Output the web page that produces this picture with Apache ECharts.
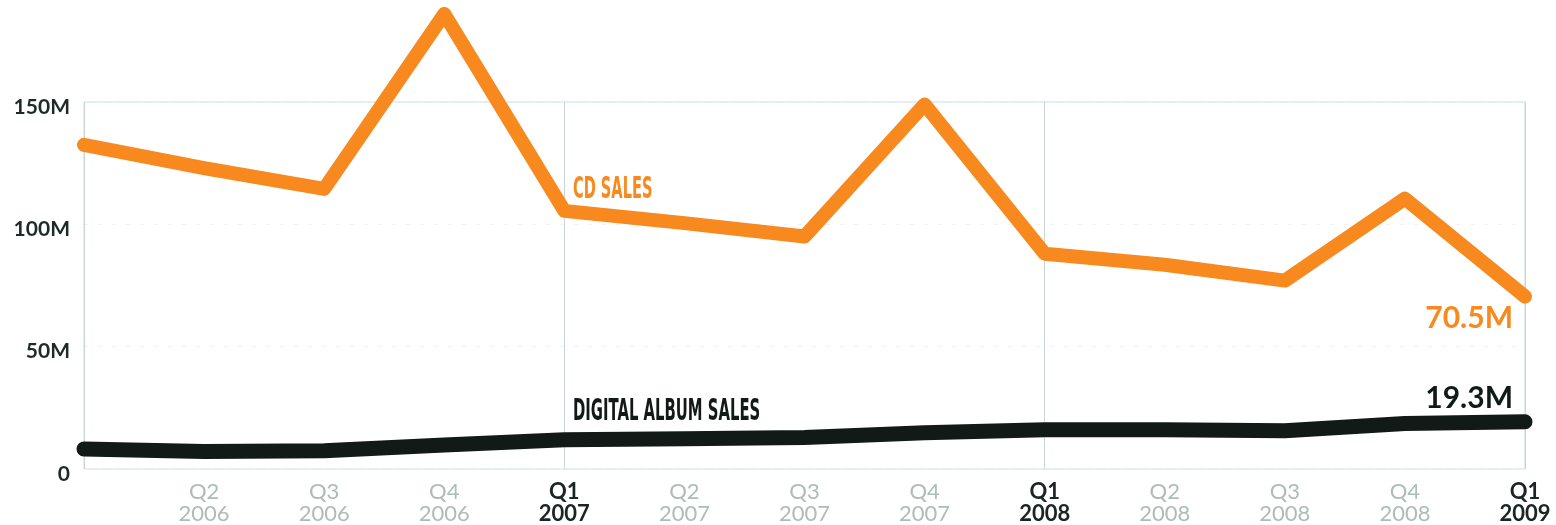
<!DOCTYPE html>
<html>
<head>
<meta charset="utf-8">
<script src="https://cdn.jsdelivr.net/npm/echarts@6/dist/echarts.min.js"></script>
<style>
  html, body { margin: 0; padding: 0; background: #fff; }
  #chart { width: 1556px; height: 525px; }
</style>
</head>
<body>
<div id="chart"></div>
<script>
// quarters, Q1 2006 .. Q1 2009
var quarters = ['Q1', 'Q2', 'Q3', 'Q4', 'Q1', 'Q2', 'Q3', 'Q4', 'Q1', 'Q2', 'Q3', 'Q4', 'Q1'];
var years = ['2006', '2006', '2006', '2006', '2007', '2007', '2007', '2007', '2008', '2008', '2008', '2008', '2009'];
// units: millions of albums
var cdSales = [132.5, 123, 114.5, 186, 105.5, 100.5, 95, 149, 88, 83.5, 77, 110.5, 70.5];
var digitalSales = [8.2, 7.2, 7.5, 9.8, 12, 12.4, 12.9, 14.8, 16, 16, 15.6, 18.6, 19.3];
var yTicks = [0, 50, 100, 150];

var ORANGE = '#f7891f';
var BLACK = '#121a17';
var CONDENSED = '"Liberation Sans Narrow", "DejaVu Sans Condensed", sans-serif';

var myChart = echarts.init(document.getElementById('chart'));

function lastLabel(values, color, offset) {
    return values.map(function (v, i) {
        if (i !== values.length - 1) return v;
        return {
            value: v,
            label: {
                show: true,
                position: 'inside',
                align: 'right',
                verticalAlign: 'middle',
                offset: offset,
                formatter: v + 'M',
                color: color,
                fontFamily: 'Lato',
                fontWeight: 'bold',
                fontSize: 30
            }
        };
    });
}

var option = {
    animation: false,
    grid: {
        left: 84,
        right: 31,
        top: 102,
        bottom: 54,
        show: true,
        borderColor: '#c9dbe0',
        borderWidth: 1
    },
    xAxis: {
        type: 'category',
        data: quarters,
        boundaryGap: false,
        axisLine: { show: false },
        axisTick: { show: false },
        axisLabel: {
            interval: 0,
            margin: 12,
            formatter: function (value, i) {
                if (i === 0) return '';
                var style = value === 'Q1' ? 'major' : 'minor';
                return '{' + style + '|' + value + '}\n{' + style + '|' + years[i] + '}';
            },
            rich: {
                major: { color: '#1a2624', fontFamily: 'Lato', fontWeight: 'bold', fontSize: 22, lineHeight: 22 },
                minor: { color: '#adbcb8', fontFamily: 'Lato', fontSize: 22, lineHeight: 22 }
            }
        },
        splitLine: {
            show: true,
            interval: function (index) { return index % 4 === 0; },
            lineStyle: { color: '#c9d6d8', width: 1 }
        }
    },
    yAxis: {
        type: 'value',
        min: 0,
        max: 150,
        interval: 50,
        axisLine: { show: false },
        axisTick: { show: false },
        axisLabel: {
            margin: 14,
            formatter: function (v) { return '{t|' + (v === 0 ? '0' : v + 'M') + '}'; },
            rich: {
                t: {
                    color: '#1f2a28',
                    fontFamily: 'Lato',
                    fontWeight: 'bold',
                    fontSize: 21,
                    padding: [10, 0, 0, 0]
                }
            }
        },
        splitLine: {
            show: true,
            lineStyle: { color: '#eef2f1', type: [4, 10], width: 1 }
        }
    },
    graphic: [
        {
            type: 'text',
            left: 573,
            top: 175,
            scaleX: 0.54,
            style: {
                text: 'CD SALES',
                fill: ORANGE,
                font: 'bold 30px ' + CONDENSED
            }
        },
        {
            type: 'text',
            left: 573,
            top: 397,
            scaleX: 0.55,
            style: {
                text: 'DIGITAL ALBUM SALES',
                fill: BLACK,
                font: 'bold 30px ' + CONDENSED
            }
        }
    ],
    series: [
        {
            name: 'CD sales',
            type: 'line',
            data: lastLabel(cdSales, ORANGE, [-12, 22]),
            clip: false,
            symbol: 'circle',
            symbolSize: 1,
            itemStyle: { color: ORANGE },
            lineStyle: { color: ORANGE, width: 14, cap: 'round', join: 'round' },
            z: 3
        },
        {
            name: 'Digital album sales',
            type: 'line',
            data: lastLabel(digitalSales, BLACK, [-12, -23]),
            clip: false,
            symbol: 'circle',
            symbolSize: 1,
            itemStyle: { color: BLACK },
            lineStyle: { color: BLACK, width: 15, cap: 'round', join: 'round' },
            z: 4
        }
    ]
};

myChart.setOption(option);
</script>
</body>
</html>
